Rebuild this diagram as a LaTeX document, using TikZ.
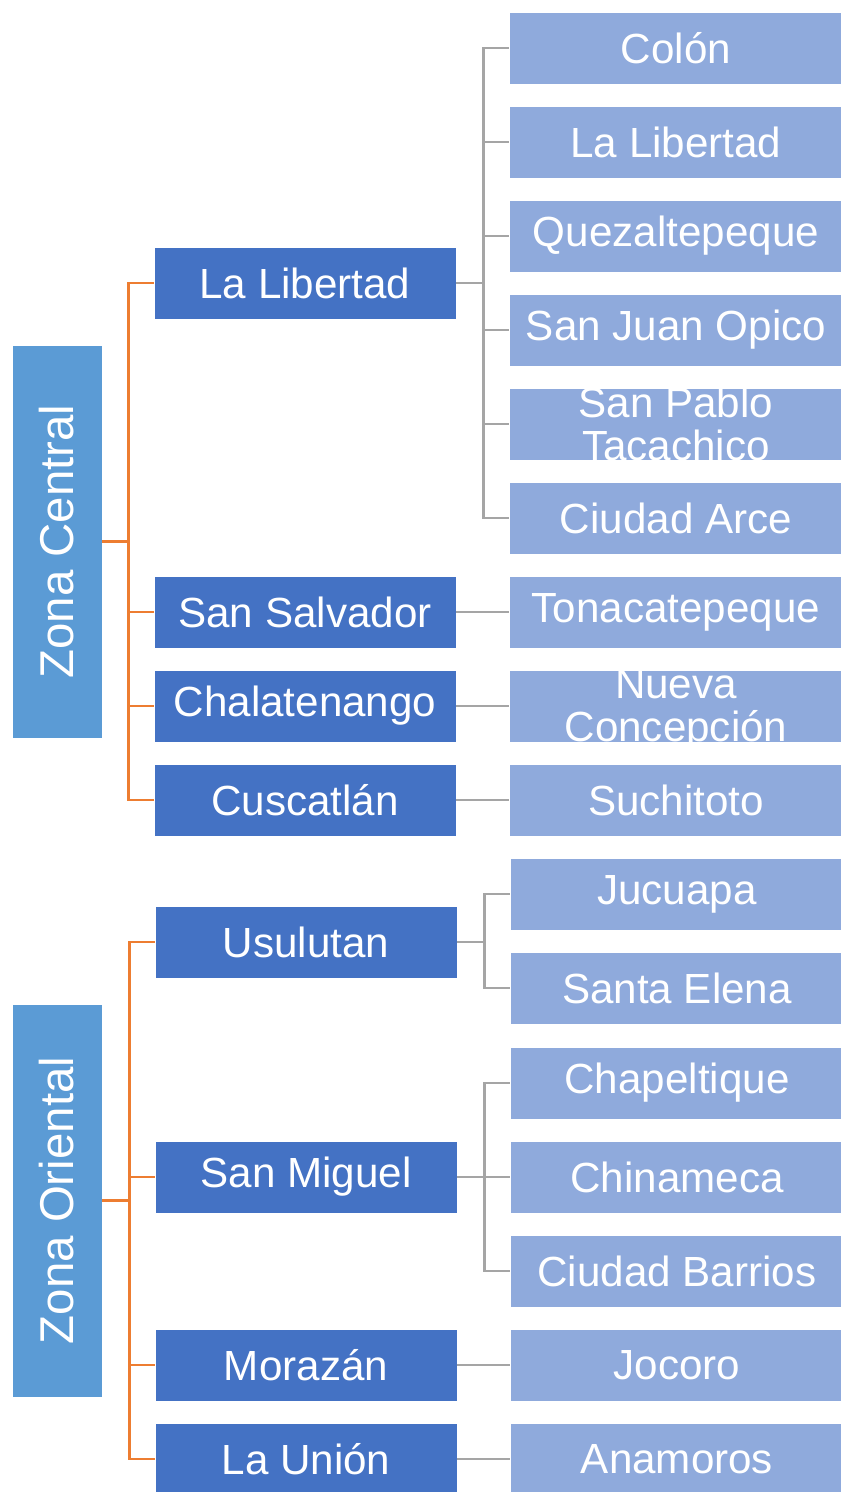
\documentclass[tikz,border=0pt]{standalone}
\usepackage{fontspec}
\setmainfont{Liberation Sans}
\usetikzlibrary{arrows.meta}

\definecolor{zonafill}{HTML}{5B9BD5}
\definecolor{deptofill}{HTML}{4472C4}
\definecolor{munifill}{HTML}{8FAADC}
\definecolor{orangeline}{HTML}{ED7D31}
\definecolor{grayline}{HTML}{A5A5A5}

\tikzset{
  zonabox/.style={draw=white, line width=0.5pt, fill=zonafill, text=white, inner sep=0pt,
    minimum width=1.8cm, minimum height=7.86cm, font=\fontsize{27}{27}\selectfont},
  deptobox/.style={draw=white, line width=0.5pt, fill=deptofill, text=white, inner sep=0pt,
    minimum width=6.04cm, minimum height=1.44cm, font=\fontsize{24}{24}\selectfont},
  munibox/.style={draw=white, line width=0.5pt, fill=munifill, text=white, inner sep=0pt,
    minimum width=6.68cm, minimum height=1.44cm, font=\fontsize{24}{24}\selectfont},
  twolines/.style 2 args={path picture={\node[text=white, align=center, font=\fontsize{24}{24.5}\selectfont]
    at ([yshift=#2]path picture bounding box.center) {#1};}},
  zline/.style={draw=orangeline, line width=1.5pt},
  mline/.style={draw=grayline, line width=1.5pt},
}

\begin{document}
\begin{tikzpicture}[x=0.02cm, y=-0.02cm]
  \clip (0,0) rectangle (841,1492);
  \fill[white] (0,0) rectangle (841,1492);

  % Zona Central
  \node (zc)[zonabox] at (57,541.5) {\rotatebox{90}{Zona Central}};
  \node (d1)[deptobox] at (305,283) {La Libertad};
  \node (d2)[deptobox] at (305,612) {San Salvador};
  \node (d3)[deptobox] at (305,706) {Chalatenango};
  \node (d4)[deptobox] at (305,800) {Cuscatlán};

  \node (m1)[munibox] at (676,48)  {Colón};
  \node (m2)[munibox] at (676,142) {La Libertad};
  \node (m3)[munibox] at (676,236) {Quezaltepeque};
  \node (m4)[munibox] at (676,330) {San Juan Opico};
  \node (m5)[munibox, twolines={San Pablo\\Tacachico}{0cm}] at (676,424) {};
  \node (m6)[munibox] at (676,518) {Ciudad Arce};
  \node (m7)[munibox] at (676,612) {Tonacatepeque};
  \node (m8)[munibox, twolines={Nueva\\Concepción}{-0.08cm}] at (676,706) {};
  \node (m9)[munibox] at (676,800) {Suchitoto};

  \draw[zline] (zc.east) -- ++(26,0) coordinate (zcbus);
  \draw[zline] (zcbus) |- (d1.west);
  \draw[zline] (zcbus) |- (d2.west);
  \draw[zline] (zcbus) |- (d3.west);
  \draw[zline] (zcbus) |- (d4.west);

  \draw[mline] (d1.east) -- ++(27,0) coordinate (d1bus);
  \draw[mline] (d1bus) |- (m1.west);
  \draw[mline] (d1bus) |- (m2.west);
  \draw[mline] (d1bus) |- (m3.west);
  \draw[mline] (d1bus) |- (m4.west);
  \draw[mline] (d1bus) |- (m5.west);
  \draw[mline] (d1bus) |- (m6.west);
  \draw[mline] (d2.east) -- (m7.west);
  \draw[mline] (d3.east) -- (m8.west);
  \draw[mline] (d4.east) -- (m9.west);

  % Zona Oriental
  \node (zo)[zonabox] at (57,1200.5) {\rotatebox{90}{Zona Oriental}};
  \node (d5)[deptobox] at (306,942)  {Usulutan};
  \node (d6)[deptobox] at (306,1177) {San Miguel};
  \node (d7)[deptobox] at (306,1365) {Morazán};
  \node (d8)[deptobox] at (306,1459) {La Unión};

  \node (m10)[munibox] at (677,894)  {Jucuapa};
  \node (m11)[munibox] at (677,988)  {Santa Elena};
  \node (m12)[munibox] at (677,1083) {Chapeltique};
  \node (m13)[munibox] at (677,1177) {Chinameca};
  \node (m14)[munibox] at (677,1271) {Ciudad Barrios};
  \node (m15)[munibox] at (677,1365) {Jocoro};
  \node (m16)[munibox] at (677,1459) {Anamoros};

  \draw[zline] (zo.east) -- ++(27,0) coordinate (zobus);
  \draw[zline] (zobus) |- (d5.west);
  \draw[zline] (zobus) |- (d6.west);
  \draw[zline] (zobus) |- (d7.west);
  \draw[zline] (zobus) |- (d8.west);

  \draw[mline] (d5.east) -- ++(27,0) coordinate (d5bus);
  \draw[mline] (d5bus) |- (m10.west);
  \draw[mline] (d5bus) |- (m11.west);
  \draw[mline] (d6.east) -- ++(27,0) coordinate (d6bus);
  \draw[mline] (d6bus) |- (m12.west);
  \draw[mline] (d6bus) |- (m13.west);
  \draw[mline] (d6bus) |- (m14.west);
  \draw[mline] (d7.east) -- (m15.west);
  \draw[mline] (d8.east) -- (m16.west);
\end{tikzpicture}
\end{document}
